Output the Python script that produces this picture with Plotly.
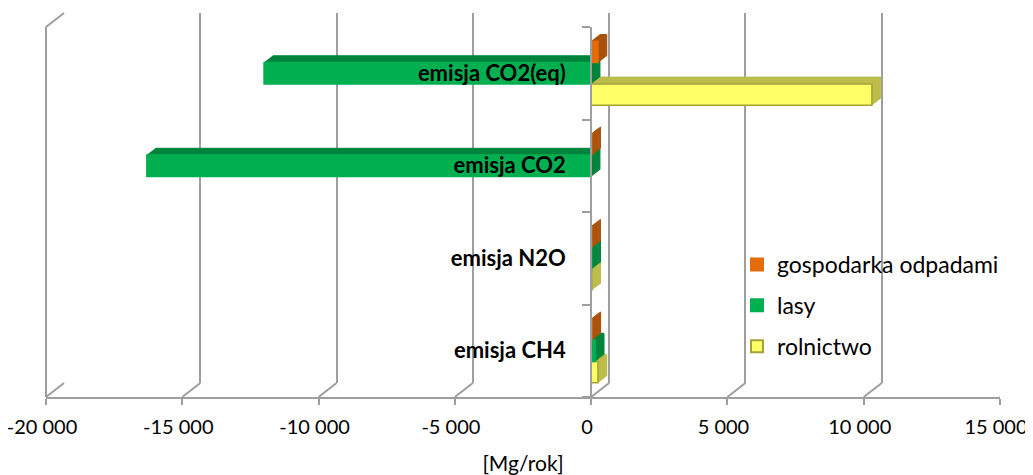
import plotly.graph_objects as go

# ---------------- data ----------------
categories = ["emisja CH4", "emisja N2O", "emisja CO2", "emisja CO2(eq)"]
gospodarka_odpadami = [25, 20, 20, 250]
lasy = [150, 20, -16300, -12000]
rolnictwo = [250, 25, None, 10300]

x_tickvals = [-20000, -15000, -10000, -5000, 0, 5000, 10000, 15000]
x_ticktext = ["-20 000", "-15 000", "-10 000", "-5 000", "0", "5 000", "10 000", "15 000"]
x_title = "[Mg/rok]"

# ---------------- style ----------------
PAGE_W, PAGE_H = 1033, 475
OFF = 8                      # default body margin of the html page
W, H = PAGE_W - OFF, PAGE_H - OFF
FONT = "Lato, 'Liberation Sans', Arial, sans-serif"
GRID = "#9E9E9E"
XMIN, XMAX = -20000, 15000

# front plane (page pixels)
FX0, FX1 = 46, 1000
FY0, FY1 = 27, 397
DEPTH_X, DEPTH_Y = 18, 14          # back wall offset
N_LAYERS = 8
BAR_DX, BAR_DY = 1.1, 0.85         # per-layer extrusion step for bars

series = [
    # name, values, face, side, outline, legend rank
    ("rolnictwo", rolnictwo, "#FFFF66", "#BDBD4C", "#A3A33A", 3),
    ("lasy", lasy, "#00B050", "#00843C", "#00B050", 2),
    ("gospodarka odpadami", gospodarka_odpadami, "#E46C0A", "#A9520D", "#E46C0A", 1),
]


def xdom(dx):
    return [(FX0 - OFF + dx) / W, (FX1 - OFF + dx) / W]


def ydom(dy):
    return [(H - (FY1 - OFF) + dy) / H, (H - (FY0 - OFF) + dy) / H]


fig = go.Figure()
layout = dict(
    width=W, height=H,
    margin=dict(l=0, r=0, t=0, b=0),
    paper_bgcolor="white", plot_bgcolor="rgba(0,0,0,0)",
    barmode="group", bargap=0.31, bargroupgap=0,
    showlegend=True,
    font=dict(family=FONT, size=20, color="black"),
)

# subplot 1: back wall with gridlines
layout["xaxis"] = dict(domain=xdom(DEPTH_X), range=[XMIN, XMAX], anchor="y",
                       tickvals=x_tickvals, showticklabels=False, ticks="",
                       showgrid=True, gridcolor=GRID, gridwidth=2,
                       zeroline=False, showline=False, fixedrange=True)
layout["yaxis"] = dict(domain=ydom(DEPTH_Y), range=[0, 1], anchor="x",
                       showgrid=False, showticklabels=False, zeroline=False,
                       showline=False, ticks="", fixedrange=True)
fig.add_trace(go.Scatter(x=[], y=[], xaxis="x", yaxis="y", showlegend=False, hoverinfo="skip"))

# shadow (extrusion) layers, deepest first
idx = 2
for k in range(N_LAYERS, 0, -1):
    xa, ya = f"x{idx}", f"y{idx}"
    layout[f"xaxis{idx}"] = dict(domain=xdom(k * BAR_DX), range=[XMIN, XMAX], anchor=ya,
                                 visible=False, fixedrange=True)
    layout[f"yaxis{idx}"] = dict(domain=ydom(k * BAR_DY), anchor=xa, type="category",
                                 categoryarray=categories, categoryorder="array",
                                 range=[-0.5, len(categories) - 0.5],
                                 visible=False, fixedrange=True)
    for name, vals, face, side, outline, rank in series:
        fig.add_trace(go.Bar(
            y=categories, x=vals, orientation="h", name=name, xaxis=xa, yaxis=ya,
            marker=dict(color=side, line=dict(color=side, width=1)),
            showlegend=False, hoverinfo="skip",
        ))
    idx += 1

# front subplot
FI = idx
xa, ya = f"x{FI}", f"y{FI}"
fd = xdom(0)
zero_pos = fd[0] + (0 - XMIN) / (XMAX - XMIN) * (fd[1] - fd[0])
layout[f"xaxis{FI}"] = dict(domain=fd, range=[XMIN, XMAX], anchor=ya,
                            tickvals=x_tickvals, ticktext=x_ticktext,
                            ticks="outside", ticklen=6, tickcolor=GRID, tickwidth=2,
                            showline=True, linecolor=GRID, linewidth=2,
                            showgrid=False, zeroline=False,
                            tickfont=dict(family=FONT, size=20, color="black"),
                            ticklabelstandoff=5, ticklabelshift=-4, ticklabeloverflow="allow",
                            title=dict(text=x_title, font=dict(family=FONT, size=21, color="black"),
                                       standoff=20),
                            automargin=False, fixedrange=True)
layout[f"yaxis{FI}"] = dict(domain=ydom(0), anchor="free", position=zero_pos,
                            type="category", categoryarray=categories, categoryorder="array",
                            range=[-0.5, len(categories) - 0.5],
                            showline=True, linecolor=GRID, linewidth=2,
                            ticks="outside", ticklen=8, tickcolor=GRID, tickwidth=2,
                            tickson="boundaries", showgrid=False, zeroline=False,
                            tickfont=dict(family=FONT, size=22, color="black", weight="bold"),
                            ticklabelstandoff=20,
                            automargin=False, fixedrange=True, layer="above traces")
for name, vals, face, side, outline, rank in series:
    fig.add_trace(go.Bar(
        y=categories, x=vals, orientation="h", name=name, xaxis=xa, yaxis=ya,
        marker=dict(color=face, line=dict(color=outline, width=1.5)),
        legendrank=rank, legendgroup=name, hoverinfo="x+name",
    ))

layout["legend"] = dict(x=(737 - OFF) / W, y=(H - (243 - OFF)) / H, xanchor="left", yanchor="top",
                        traceorder="grouped", tracegroupgap=8,
                        bgcolor="rgba(0,0,0,0)", borderwidth=0, itemsizing="constant",
                        font=dict(family=FONT, size=23, color="black"))

# decorative wall / floor edges (3-D frame)
shapes = []
line = dict(color=GRID, width=2)
fy_ref = f"y{FI} domain"
# left wall front edge
shapes.append(dict(type="line", xref=f"x{FI} domain", yref=fy_ref, x0=0, x1=0, y0=0, y1=1, line=line))
# left wall top slant
shapes.append(dict(type="line", xref=f"x{FI} domain", yref=fy_ref,
                   xsizemode="pixel", xanchor=0, x0=0, x1=DEPTH_X,
                   ysizemode="pixel", yanchor=1, y0=0, y1=DEPTH_Y, line=line))
# floor slants under every gridline
for t in x_tickvals:
    shapes.append(dict(type="line", xref=f"x{FI}", yref=fy_ref,
                       xsizemode="pixel", xanchor=t, x0=0, x1=DEPTH_X,
                       ysizemode="pixel", yanchor=0, y0=0, y1=DEPTH_Y, line=line))
layout["shapes"] = shapes

fig.update_layout(**layout)
fig.write_html("out.html")
